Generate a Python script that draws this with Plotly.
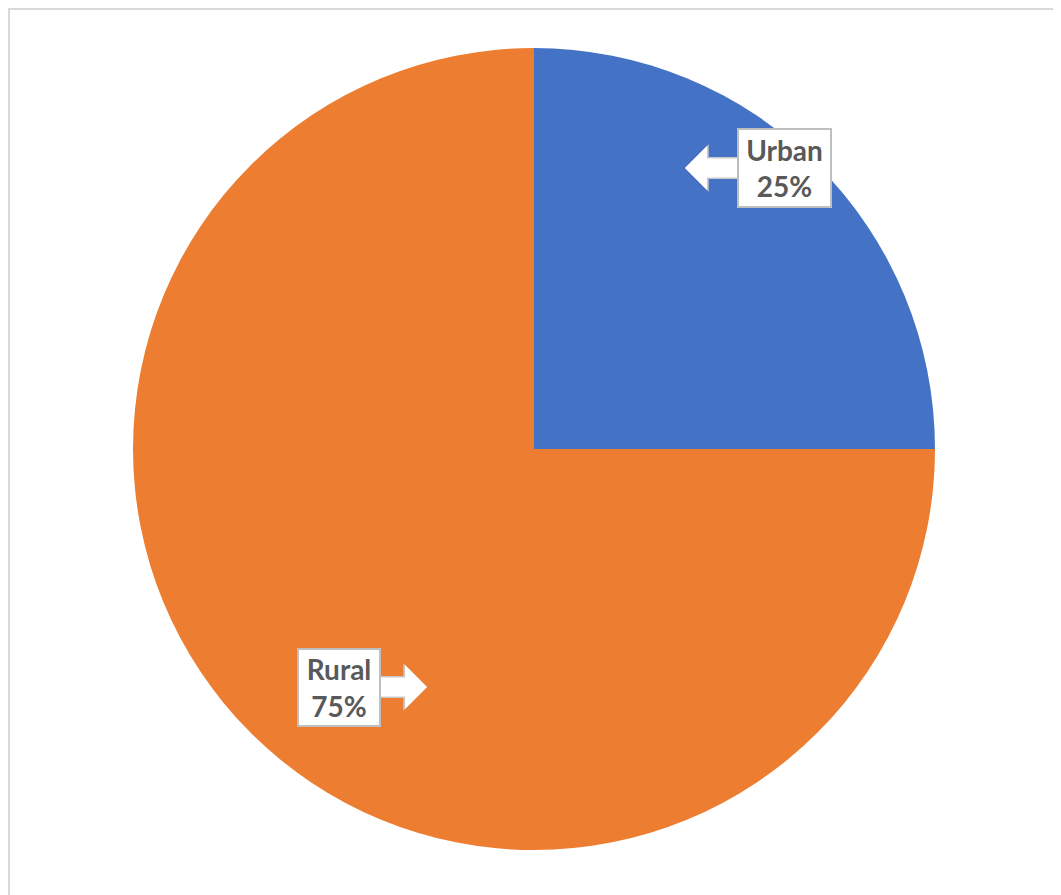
import plotly.graph_objects as go

labels = ["Urban", "Rural"]
values = [25, 75]
colors = ["#4472C4", "#ED7D31"]

# figure is placed by the page with an 8px body margin
W, H = 1053, 887
cx, cy, r = 526, 441, 401  # pie centre / radius in figure pixels (from top-left)

# callouts (figure pixels from top-left): arrow tip, arrow length to box, box centre, box size
tips = [(677, 160), (419, 679)]
arrow_len = [60, -54]          # signed horizontal distance from tip back into the box
boxes = [(776, 160), (331, 679)]
box_sizes = [(83, 68), (72, 67)]

HEAD_LEN = 20  # where the shaft stops, measured back from the tip

fig = go.Figure()
fig.add_trace(go.Pie(
    labels=labels, values=values, sort=False, direction="clockwise", rotation=0,
    marker=dict(colors=colors, line=dict(width=0)),
    textinfo="none", hoverinfo="label+percent", showlegend=False,
    domain=dict(x=[(cx - r) / W, (cx + r) / W], y=[(H - cy - r) / H, (H - cy + r) / H]),
))

total = sum(values)
annotations = []
for lab, v, (tx, ty), L, (bx, by), (bw, bh) in zip(labels, values, tips, arrow_len, boxes, box_sizes):
    sgn = 1 if L > 0 else -1
    y = 1 - ty / H
    shaft_x = (tx + sgn * HEAD_LEN) / W
    shaft_ax = L - sgn * HEAD_LEN
    for col, sw, hs in (("#C8C8C8", 22, 7.9), ("white", 19, 7.3)):
        # shaft (no head)
        annotations.append(dict(
            x=shaft_x, y=y, xref="paper", yref="paper", ax=shaft_ax, ay=0, text="",
            showarrow=True, arrowhead=0, arrowwidth=sw, arrowcolor=col,
            standoff=0, startstandoff=0,
        ))
        # head (thin line, large head)
        annotations.append(dict(
            x=tx / W, y=y, xref="paper", yref="paper", ax=L, ay=0, text="",
            showarrow=True, arrowhead=1, arrowwidth=1, arrowsize=hs, arrowcolor=col,
            standoff=0, startstandoff=0,
        ))
    annotations.append(dict(
        x=bx / W, y=1 - by / H, xref="paper", yref="paper",
        xanchor="center", yanchor="middle", showarrow=False,
        text=f"<b>{lab}</b><br><b>{round(100 * v / total)}%</b>",
        width=bw, height=bh,
        bgcolor="white", bordercolor="#BFBFBF", borderwidth=2, borderpad=4,
        font=dict(family="Lato", size=28, color="#595959"), align="center",
    ))

fig.update_layout(
    width=W, height=H, margin=dict(l=0, r=0, t=0, b=0),
    paper_bgcolor="white", plot_bgcolor="white",
    annotations=annotations,
    shapes=[dict(type="rect", xref="paper", yref="paper",
                 x0=1 / W, x1=1.05, y0=-0.05, y1=1 - 1 / H,
                 line=dict(color="#D9D9D9", width=2), fillcolor="rgba(0,0,0,0)")],
)

fig.write_html("out.html")
